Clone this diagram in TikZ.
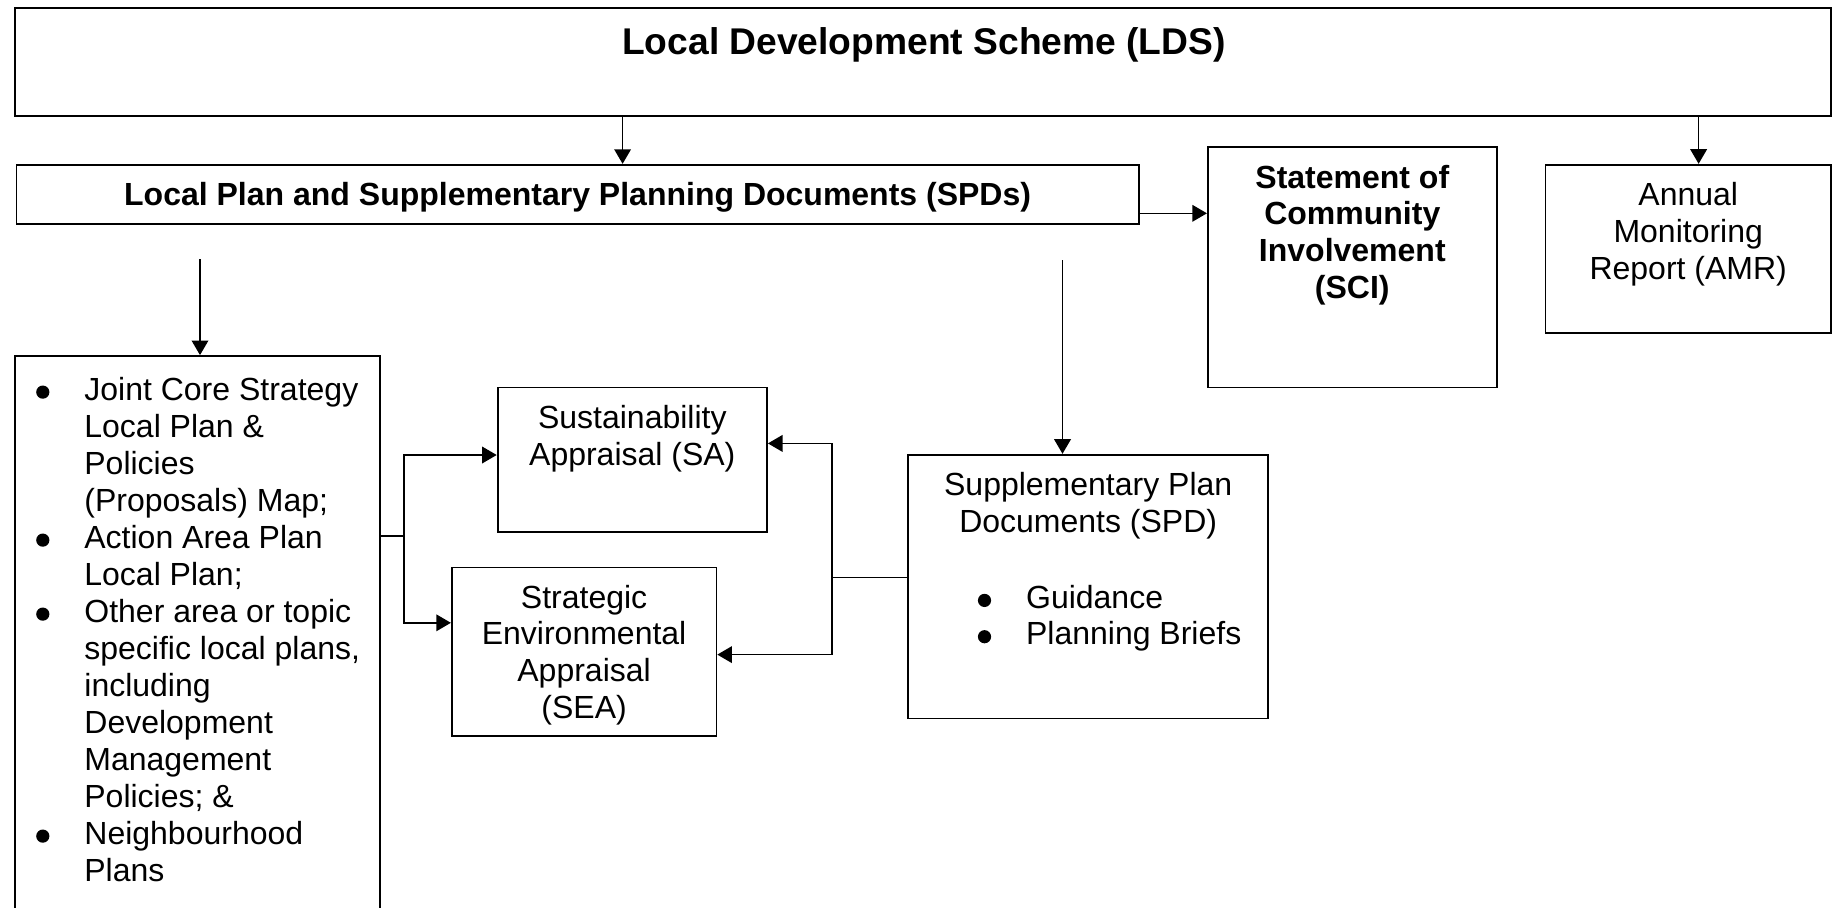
\documentclass[tikz,border=0pt]{standalone}
\usepackage{fontspec}
\setmainfont{Liberation Sans}
\usetikzlibrary{arrows.meta}
\newcommand\fl{\rule{0pt}{12pt}}
\newcommand\blt{\llap{\tikz[x=1pt,y=1pt,baseline=0pt]\fill[black] (0,4pt) circle (3.3pt);\hspace{17.5pt}}}
\begin{document}
\begin{tikzpicture}[x=0.5pt, y=-0.5pt,
  box/.style={draw, line width=0.9pt, inner sep=0pt},
  lbl/.style={inner sep=0pt, align=center, font=\fontsize{16}{18.4}\selectfont},
  blbl/.style={inner sep=0pt, align=center, font=\bfseries\fontsize{16}{18.4}\selectfont},
  lst/.style={inner sep=0pt, align=left, anchor=north west, font=\fontsize{16}{18.5}\selectfont},
  ln/.style={line width=0.8pt},
  arr/.style={line width=0.8pt, -{Triangle[length=7.3pt,width=8.3pt]}}
]
\useasboundingbox (0,0) rectangle (1834,907);
\clip (0,0) rectangle (1834,907);

% boxes
\node[box, minimum width=1816.3*0.5pt, minimum height=107.4*0.5pt] (LDS) at (922.9,62) {};
\node[box, minimum width=1122.3*0.5pt, minimum height=59.3*0.5pt] (LP) at (577.6,194.4) {};
\node[box, minimum width=288.9*0.5pt, minimum height=240.5*0.5pt] (SCI) at (1352.3,267.3) {};
\node[box, minimum width=285.6*0.5pt, minimum height=168.6*0.5pt] (AMR) at (1688.2,249) {};
\node[box, minimum width=365*0.5pt, minimum height=559*0.5pt] (Joint) at (197.2,635.5) {};
\node[box, minimum width=269.4*0.5pt, minimum height=144.3*0.5pt] (SA) at (632.3,459.6) {};
\node[box, minimum width=264.6*0.5pt, minimum height=168.5*0.5pt] (SEA) at (584.1,651.8) {};
\node[box, minimum width=360.3*0.5pt, minimum height=263.8*0.5pt] (SPD) at (1088.2,586.6) {};

% texts
\node[inner sep=0pt, anchor=base, font=\bfseries\fontsize{18.6}{21}\selectfont] (LDSt) at (924,54) {Local Development Scheme (LDS)};
\node[blbl, anchor=base] (LPt) at (577.6,205) {Local Plan and Supplementary Planning Documents (SPDs)};
\node[blbl, anchor=north] (SCIt) at (1352.3,163.7) {\fl Statement of\\Community\\Involvement\\(SCI)};
\node[lbl, anchor=north] (AMRt) at (1688.2,181.5) {\fl Annual\\Monitoring\\Report (AMR)};
\node[lbl, anchor=north] (SAt) at (632.3,403.9) {\fl Sustainability\\Appraisal (SA)};
\node[lbl, anchor=north] (SEAt) at (584.1,583.6) {\fl Strategic\\Environmental\\Appraisal\\(SEA)};
\node[lbl, anchor=north] (SPDt) at (1088.2,471.3) {\fl Supplementary Plan\\Documents (SPD)};
\node[lst, font=\fontsize{16}{18.15}\selectfont] (SPDl) at (1025.7,584) {\fl\blt Guidance\\\blt Planning Briefs};
\node[lst] (Jointl) at (84,375.7) {\fl\blt Joint Core Strategy\\Local Plan \&\\Policies\\(Proposals) Map;\\\blt Action Area Plan\\Local Plan;\\\blt Other area or topic\\specific local plans,\\including\\Development\\Management\\Policies; \&\\\blt Neighbourhood\\Plans};

% helper coordinates
\coordinate (xA) at (622.6,0);
\coordinate (xB) at (1698.6,0);
\coordinate (yC) at (0,213.3);
\coordinate (s1) at (200,259.3);
\coordinate (s2) at (1062.5,260);
\coordinate (jy) at (403.7,535.7);
\coordinate (ya) at (0,455);
\coordinate (yb) at (0,622.8);
\coordinate (ky) at (832,577.6);
\coordinate (yc) at (0,443.4);
\coordinate (yd) at (0,654.6);

% connectors
\draw[arr] (LDS.south -| xA) -- (LP.north -| xA);
\draw[arr] (LDS.south -| xB) -- (AMR.north -| xB);
\draw[arr] (LP.east |- yC) -- (SCI.west |- yC);
\draw[arr] (s1) -- (Joint.north -| s1);
\draw[arr] (s2) -- (SPD.north -| s2);
\draw[ln] (Joint.east |- jy) -- (jy);
\draw[arr] (jy) |- (SA.west |- ya);
\draw[arr] (jy) |- (SEA.west |- yb);
\draw[ln] (SPD.west |- ky) -- (ky);
\draw[arr] (ky) |- (SA.east |- yc);
\draw[arr] (ky) |- (SEA.east |- yd);
\end{tikzpicture}
\end{document}
